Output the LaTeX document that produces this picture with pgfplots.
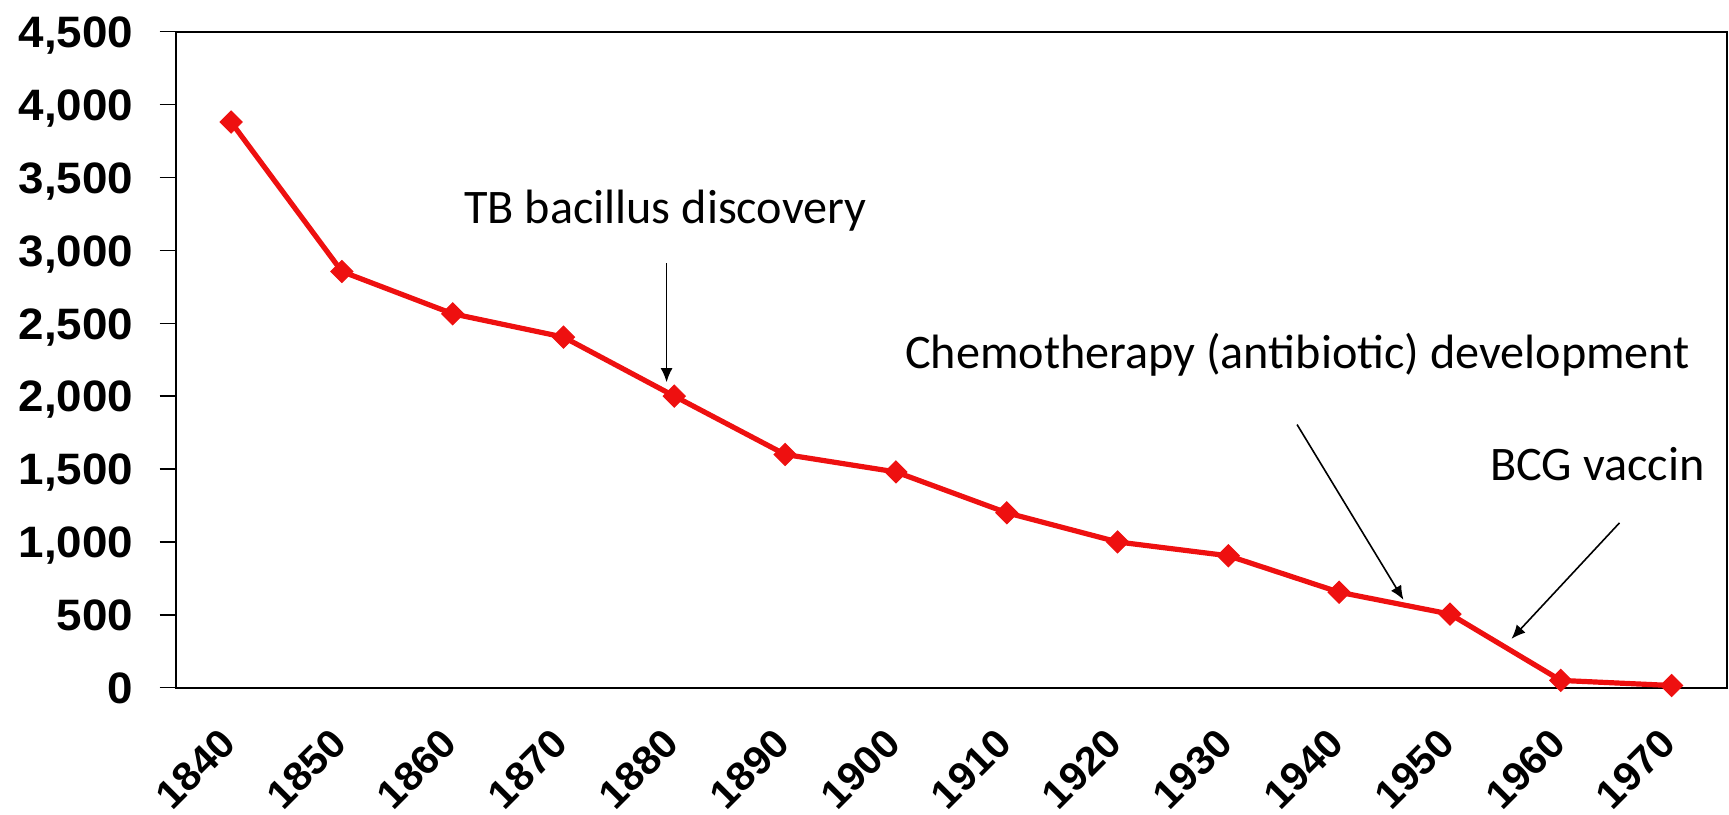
\documentclass[border=0pt]{standalone}
\usepackage{fontspec}
\usepackage{pgfplots}
\pgfplotsset{compat=1.18}
\usetikzlibrary{arrows.meta}
\newfontfamily\tickfont{Liberation Sans}[FakeStretch=1.04]
\newfontfamily\calfont{Carlito}
\definecolor{tbred}{RGB}{238,16,16}
\newcommand{\tfont}{\tickfont\bfseries\fontsize{22pt}{26pt}\selectfont}
\newcommand{\xfont}{\tickfont\bfseries\fontsize{20pt}{24pt}\selectfont}
\newcommand{\cfont}{\calfont\fontsize{24.1pt}{29pt}\selectfont}

\begin{document}
\begin{tikzpicture}
\useasboundingbox (-87.85pt,-63.15pt) rectangle (776.65pt,343.85pt);
\begin{axis}[
  at={(0pt,0pt)}, anchor=south west,
  scale only axis, width=775.65pt, height=328pt,
  xmin=1835, xmax=1975, ymin=0, ymax=4500,
  xtick={1840,1850,...,1970},
  xticklabels={1840,1850,1860,1870,1880,1890,1900,1910,1920,1930,1940,1950,1960,1970},
  ytick={0,500,...,4500},
  axis line style={line width=1pt},
  tick align=outside,
  xtick pos=bottom, ytick pos=left,
  major tick length=8pt,
  xtick style={draw=none},
  ytick style={line width=0.75pt, black},
  /pgf/number format/assume math mode=true,
  /pgf/number format/1000 sep={,},
  xticklabel style={font=\xfont, inner sep=0pt, yshift=-16pt, xshift=-1.4pt, rotate=45, anchor=east},
  yticklabel style={font=\tfont, inner sep=0pt, anchor=base east, yshift=-7.9pt, xshift=-13pt},
  clip=false,
]
\addplot[color=tbred, line width=2.6pt, mark=square*, mark size=3.9pt,
  mark options={rotate=45, solid, fill=tbred, draw=tbred, line width=0.5pt}]
  coordinates {
  (1840,3880) (1850,2855) (1860,2565) (1870,2405) (1880,2000)
  (1890,1600) (1900,1480) (1910,1200) (1920,1000) (1930,905)
  (1940,655) (1950,505) (1960,50) (1970,15)
  };
\node[font=\cfont, anchor=base west, inner sep=0pt] at (axis cs:1861.0,3186) {TB bacillus discovery};
\node[font=\cfont, anchor=base west, inner sep=0pt] at (axis cs:1900.8,2190) {Chemotherapy (antibiotic) development};
\node[font=\cfont, anchor=base west, inner sep=0pt] at (axis cs:1953.6,1418) {BCG vaccin};
\draw[line width=0.8pt, -{Latex[length=7pt,width=6pt]}] (axis cs:1879.3,2910) -- (axis cs:1879.3,2096);
\draw[line width=0.8pt, -{Latex[length=7pt,width=6pt]}] (axis cs:1936.2,1805) -- (axis cs:1945.8,603);
\draw[line width=0.8pt, -{Latex[length=7pt,width=6pt]}] (axis cs:1965.3,1131) -- (axis cs:1955.55,335);
\end{axis}
\end{tikzpicture}
\end{document}
